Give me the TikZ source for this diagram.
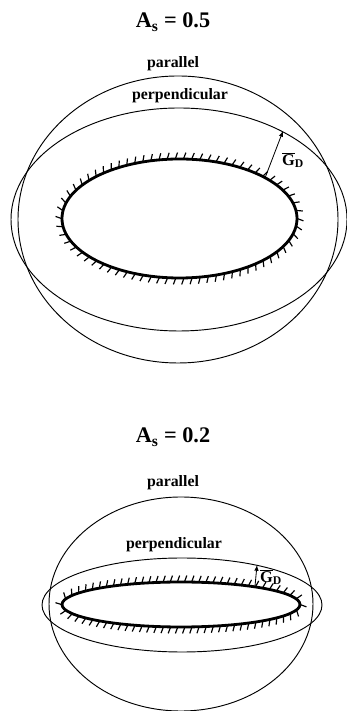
\documentclass[tikz,border=0pt]{standalone}
\usepackage{fontspec}
\setmainfont{Liberation Serif}
\usetikzlibrary{decorations.markings}

\newcommand{\gdvec}{$\overline{\mbox{G}}_{\mbox{\fontsize{10}{12}\selectfont D}}$}

\begin{document}
\begin{tikzpicture}[x=0.03cm,y=0.03cm,
		title/.style={font=\fontsize{19}{22}\selectfont\bfseries},
		lbl/.style={font=\fontsize{13.5}{15}\selectfont\bfseries},
		gdlbl/.style={font=\fontsize{14}{16}\selectfont\bfseries},
		orbit/.style={line width=0.8pt},
		hatched/.style={line width=2.4pt,postaction={decorate},
			decoration={markings,mark=between positions 0 and 0.99 step 0.0143
				with {\draw[line width=1pt] (0,0) -- (-2pt,-5.5pt);}}},
		grad/.style={line width=0.7pt,-latex}]
	\useasboundingbox (0,0) rectangle (347,711);
	% A_s = 0.5
	\node[title,anchor=base] (t1) at (173,683) {A\textsubscript{s} = 0.5};
	\node[lbl,anchor=base] (par1) at (173,643) {parallel};
	\node[lbl,anchor=base] (perp1) at (180,611) {perpendicular};
	\draw[orbit] (178,491.5) ellipse (160 and 143.5);
	\draw[orbit] (179,491.5) ellipse (168 and 111.5);
	\draw[hatched] (179.5,492.5) ellipse (117.5 and 59.5);
	\coordinate (g1) at (265,533);
	\coordinate (g1tip) at (283,580);
	\draw[grad] (g1) -- (g1tip);
	\node[gdlbl] (gd1) at (293,551) {\gdvec};
	% A_s = 0.2
	\node[title,anchor=base] (t2) at (173,268) {A\textsubscript{s} = 0.2};
	\node[lbl,anchor=base] (par2) at (173,224) {parallel};
	\node[lbl,anchor=base] (perp2) at (174,162) {perpendicular};
	\draw[orbit] (181,107) ellipse (132 and 107);
	\draw[orbit] (182,106) ellipse (140 and 47);
	\draw[hatched] (181,106.5) ellipse (119 and 22.5);
	\coordinate (g2) at (255,125);
	\coordinate (g2tip) at (257,146);
	\draw[grad] (g2) -- (g2tip);
	\node[gdlbl] (gd2) at (271,134) {\gdvec};
\end{tikzpicture}
\end{document}
